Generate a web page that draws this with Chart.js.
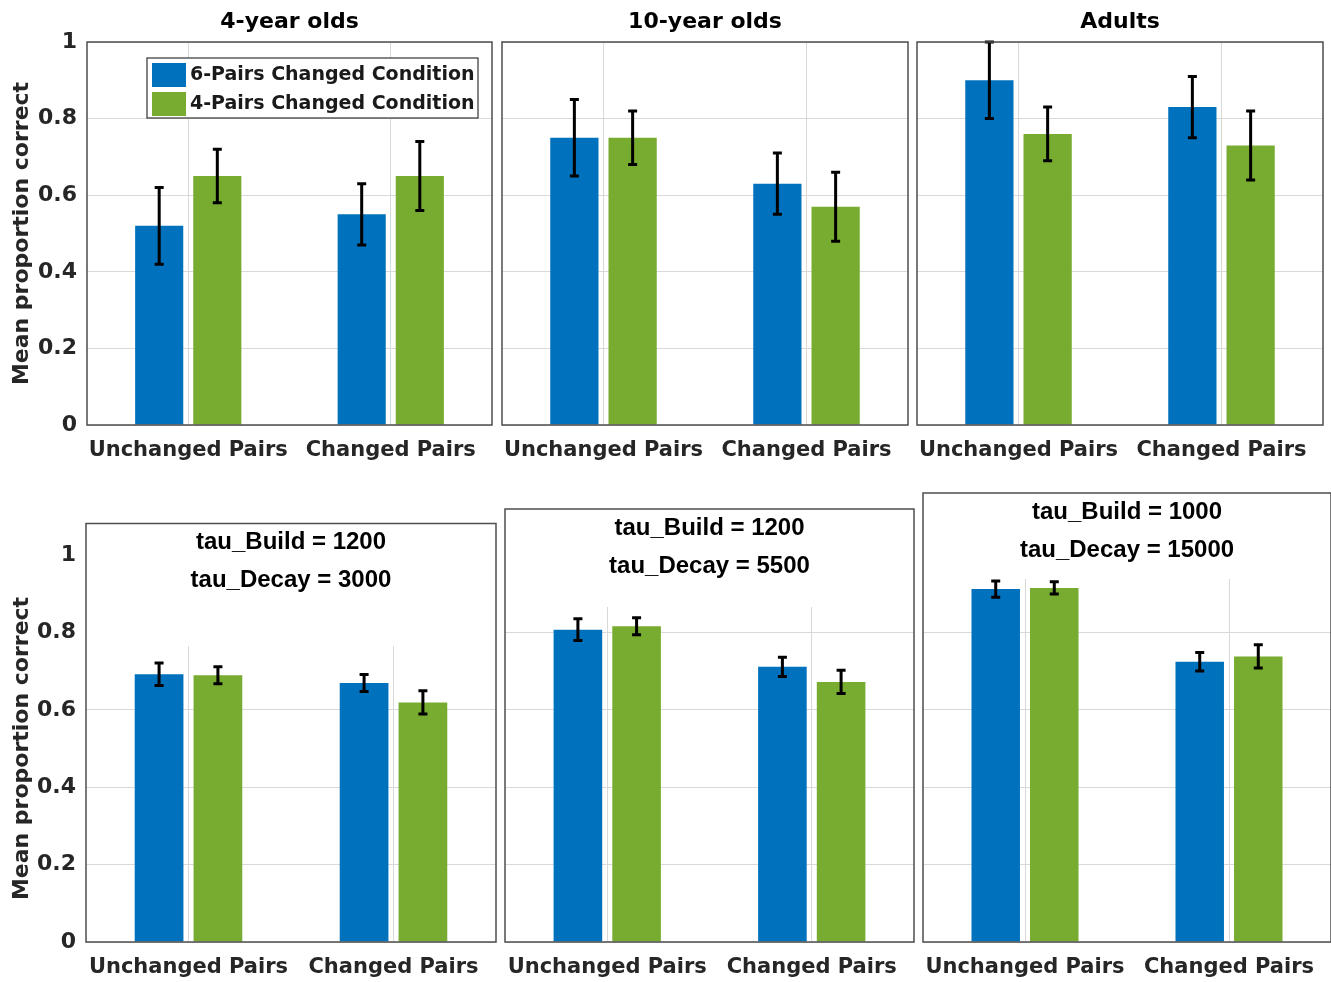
<!DOCTYPE html>
<html>
<head>
<meta charset="utf-8">
<title>Mean proportion correct</title>
<script src="https://cdn.jsdelivr.net/npm/chart.js@4"></script>
<style>
  html, body { margin: 0; padding: 0; background: #fff; }
  body { width: 1331px; height: 982px; position: relative; overflow: hidden; }
  canvas { position: absolute; }
</style>
</head>
<body>
<canvas id="p1" width="500" height="480" style="left:0;top:0"></canvas>
<canvas id="p2" width="431" height="480" style="left:486px;top:0"></canvas>
<canvas id="p3" width="430" height="480" style="left:901px;top:0"></canvas>
<canvas id="p4" width="500" height="500" style="left:0;top:482px"></canvas>
<canvas id="p5" width="428" height="500" style="left:489px;top:482px"></canvas>
<canvas id="p6" width="424" height="500" style="left:907px;top:482px"></canvas>

<script>
// ---- data ----
const categories = ['Unchanged Pairs', 'Changed Pairs'];
const seriesNames = ['6-Pairs Changed Condition', '4-Pairs Changed Condition'];
const groupTitles = ['4-year olds', '10-year olds', 'Adults'];

// top row: experiment
const kids4Six = [0.52, 0.55];
const kids4SixErr = [0.10, 0.08];
const kids4Four = [0.65, 0.65];
const kids4FourErr = [0.07, 0.09];

const kids10Six = [0.75, 0.63];
const kids10SixErr = [0.10, 0.08];
const kids10Four = [0.75, 0.57];
const kids10FourErr = [0.07, 0.09];

const adultsSix = [0.90, 0.83];
const adultsSixErr = [0.10, 0.08];
const adultsFour = [0.76, 0.73];
const adultsFourErr = [0.07, 0.09];

// bottom row: model
const model4Six = [0.692, 0.669];
const model4SixErr = [0.029, 0.022];
const model4Four = [0.689, 0.619];
const model4FourErr = [0.022, 0.030];

const model10Six = [0.807, 0.711];
const model10SixErr = [0.028, 0.025];
const model10Four = [0.816, 0.672];
const model10FourErr = [0.022, 0.030];

const modelAdSix = [0.912, 0.724];
const modelAdSixErr = [0.021, 0.024];
const modelAdFour = [0.915, 0.738];
const modelAdFourErr = [0.016, 0.030];

const tauBuild = [1200, 1200, 1000];
const tauDecay = [3000, 5500, 15000];

const yTicks = [0, 0.2, 0.4, 0.6, 0.8, 1];

// ---- styles ----
const BLUE = '#0072BD';
const GREEN = '#77AC30';
const AXIS = '#4d4d4d';
const TICK = '#262626';
const GRID = '#d9d9d9';

Chart.defaults.font.family = "'DejaVu Sans', sans-serif";
Chart.defaults.font.weight = 'bold';
Chart.defaults.color = TICK;

// error bars, drawn from each bar element and the y scale
const errorBars = {
  id: 'errorBars',
  afterDatasetsDraw(chart) {
    const { ctx } = chart;
    const y = chart.scales.y;
    const cap = 4.5;
    ctx.save();
    ctx.strokeStyle = '#000';
    ctx.lineWidth = 3;
    chart.data.datasets.forEach((ds, i) => {
      chart.getDatasetMeta(i).data.forEach((bar, j) => {
        const v = ds.data[j], e = ds.errors[j];
        const top = y.getPixelForValue(v + e);
        const bot = y.getPixelForValue(v - e);
        ctx.beginPath();
        ctx.moveTo(bar.x, top); ctx.lineTo(bar.x, bot);
        ctx.moveTo(bar.x - cap, top); ctx.lineTo(bar.x + cap, top);
        ctx.moveTo(bar.x - cap, bot); ctx.lineTo(bar.x + cap, bot);
        ctx.stroke();
      });
    });
    ctx.restore();
  }
};

// white text box with the model parameters (covers the grid behind it)
const tauBox = {
  id: 'tauBox',
  beforeDatasetsDraw(chart, _a, opts) {
    if (!opts.lines) return;
    const { ctx, chartArea: a } = chart;
    ctx.save();
    ctx.fillStyle = '#fff';
    ctx.fillRect(a.left, a.top - opts.above, a.right - a.left, opts.above + opts.below);
    ctx.fillStyle = '#000';
    ctx.font = "bold 24px 'Liberation Sans', Arial, sans-serif";
    ctx.textAlign = 'center';
    ctx.textBaseline = 'middle';
    const cx = (a.left + a.right) / 2;
    const boxTop = a.top - opts.above;
    opts.lines.forEach((t, i) => ctx.fillText(t, cx, boxTop + 19 + i * 38));
    ctx.restore();
  }
};

// axes box + panel title
const frame = {
  id: 'frame',
  afterDraw(chart, _a, opts) {
    const { ctx, chartArea: a } = chart;
    const above = opts.above || 0;
    ctx.save();
    ctx.strokeStyle = AXIS;
    ctx.lineWidth = 1.5;
    ctx.strokeRect(a.left, a.top - above, a.right - a.left, a.bottom - a.top + above);
    if (opts.title) {
      ctx.fillStyle = '#000';
      ctx.font = "bold 22px 'DejaVu Sans', sans-serif";
      ctx.textAlign = 'center';
      ctx.textBaseline = 'middle';
      ctx.fillText(opts.title, (a.left + a.right) / 2, a.top - 20);
    }
    ctx.restore();
  }
};

// legend box inside the first panel
const boxLegend = {
  id: 'boxLegend',
  afterDatasetsDraw(chart, _a, opts) {
    if (!opts.show) return;
    const { ctx, chartArea: a } = chart;
    const x0 = a.left + 60, y0 = a.top + 16;
    ctx.save();
    ctx.fillStyle = '#fff';
    ctx.fillRect(x0, y0, 331, 60);
    ctx.strokeStyle = '#333';
    ctx.lineWidth = 1.2;
    ctx.strokeRect(x0, y0, 331, 60);
    ctx.font = "bold 19px 'DejaVu Sans', sans-serif";
    ctx.textBaseline = 'middle';
    chart.data.datasets.forEach((ds, i) => {
      const cy = y0 + 17 + i * 29;
      ctx.fillStyle = ds.backgroundColor;
      ctx.fillRect(x0 + 5, cy - 12, 34, 24);
      ctx.fillStyle = '#1a1a1a';
      ctx.fillText(ds.label, x0 + 43, cy);
    });
    ctx.restore();
  }
};

function makePanel(id, p) {
  return new Chart(document.getElementById(id), {
    type: 'bar',
    data: {
      labels: categories,
      datasets: [
        { label: seriesNames[0], data: p.six, errors: p.sixErr, backgroundColor: BLUE },
        { label: seriesNames[1], data: p.four, errors: p.fourErr, backgroundColor: GREEN }
      ]
    },
    options: {
      responsive: false,
      animation: false,
      categoryPercentage: 0.574,
      barPercentage: 0.828,
      layout: { padding: p.padding },
      plugins: {
        legend: { display: false },
        tooltip: { enabled: false },
        frame: { title: p.title, above: p.above || 0 },
        tauBox: { lines: p.tau, above: p.above, below: p.below },
        boxLegend: { show: !!p.legend }
      },
      scales: {
        x: {
          offset: true,
          grid: { color: GRID, offset: false, drawTicks: false },
          border: { display: false },
          ticks: { font: { size: 21, weight: 'bold' }, color: TICK, padding: 13, maxRotation: 0, autoSkip: false },
          afterFit: (s) => { s.height = p.xHeight; }
        },
        y: {
          min: 0,
          max: 1,
          afterBuildTicks: (s) => { s.ticks = yTicks.map(v => ({ value: v })); },
          grid: { color: GRID, drawTicks: false },
          border: { display: false },
          ticks: {
            display: !!p.yLabels,
            font: { size: 22, weight: 'bold' },
            color: TICK,
            padding: 10,
            callback: (v) => String(+v.toFixed(1))
          },
          title: {
            display: !!p.yLabels,
            text: 'Mean proportion correct',
            font: { size: 22, weight: 'bold' },
            color: TICK,
            padding: { top: 9, bottom: 0 }
          },
          afterFit: (s) => { s.width = p.yWidth; }
        }
      }
    },
    plugins: [tauBox, errorBars, boxLegend, frame]
  });
}

// top row
makePanel('p1', { six: kids4Six, sixErr: kids4SixErr, four: kids4Four, fourErr: kids4FourErr,
  title: groupTitles[0], legend: true, yLabels: true,
  padding: { top: 42, right: 8, bottom: 0, left: 0 }, yWidth: 87, xHeight: 55 });
makePanel('p2', { six: kids10Six, sixErr: kids10SixErr, four: kids10Four, fourErr: kids10FourErr,
  title: groupTitles[1],
  padding: { top: 42, right: 9, bottom: 0, left: 0 }, yWidth: 16, xHeight: 55 });
makePanel('p3', { six: adultsSix, sixErr: adultsSixErr, four: adultsFour, fourErr: adultsFourErr,
  title: groupTitles[2],
  padding: { top: 42, right: 8, bottom: 0, left: 0 }, yWidth: 16, xHeight: 55 });

// bottom row
const tauLines = (i) => ['tau_Build = ' + tauBuild[i], 'tau_Decay = ' + tauDecay[i]];
makePanel('p4', { six: model4Six, sixErr: model4SixErr, four: model4Four, fourErr: model4FourErr,
  tau: tauLines(0), above: 31.5, below: 91, yLabels: true,
  padding: { top: 73, right: 4, bottom: 0, left: 0 }, yWidth: 86, xHeight: 40 });
makePanel('p5', { six: model10Six, sixErr: model10SixErr, four: model10Four, fourErr: model10FourErr,
  tau: tauLines(1), above: 46, below: 52,
  padding: { top: 73, right: 3, bottom: 0, left: 0 }, yWidth: 16, xHeight: 40 });
makePanel('p6', { six: modelAdSix, sixErr: modelAdSixErr, four: modelAdFour, fourErr: modelAdFourErr,
  tau: tauLines(2), above: 62, below: 24,
  padding: { top: 73, right: 0, bottom: 0, left: 0 }, yWidth: 16, xHeight: 40 });
</script>
</body>
</html>
